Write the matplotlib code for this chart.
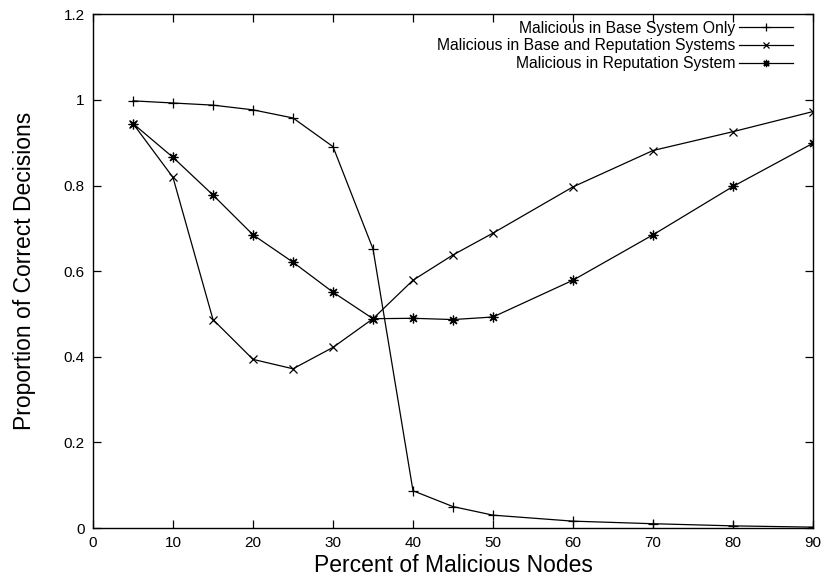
import matplotlib
matplotlib.use("Agg")
from matplotlib import pyplot as plt

plt.rcParams['font.family'] = ['Liberation Sans', 'DejaVu Sans']

# percent of malicious nodes
pct = [5, 10, 15, 20, 25, 30, 35, 40, 45, 50, 60, 70, 80, 90]

base_only = [0.998, 0.993, 0.988, 0.977, 0.958, 0.891, 0.652, 0.087, 0.050, 0.030, 0.016, 0.010, 0.005, 0.002]
base_and_rep = [0.945, 0.819, 0.487, 0.394, 0.372, 0.422, 0.489, 0.579, 0.638, 0.689, 0.797, 0.882, 0.926, 0.973]
rep_only = [0.945, 0.866, 0.778, 0.685, 0.621, 0.551, 0.489, 0.490, 0.487, 0.493, 0.579, 0.685, 0.798, 0.899]

labels = ["Malicious in Base System Only",
          "Malicious in Base and Reputation Systems",
          "Malicious in Reputation System"]

xticks = [0, 10, 20, 30, 40, 50, 60, 70, 80, 90]
yticks = [0, 0.2, 0.4, 0.6, 0.8, 1.0, 1.2]
ytick_labels = ["0", "0.2", "0.4", "0.6", "0.8", "1", "1.2"]

fig = plt.figure(figsize=(8.23, 5.79), dpi=100)
ax = fig.add_axes([93/823, 51/579, 720/823, 513.6/579])

lw = 0.9
ax.plot(pct, base_only, color='black', lw=lw, marker='+', ms=7, mew=0.9, label=labels[0])
ax.plot(pct, base_and_rep, color='black', lw=lw, marker='x', ms=6, mew=0.9, label=labels[1])
ax.plot(pct, rep_only, color='black', lw=lw, marker=(8, 2, 0), ms=7, mew=0.9, label=labels[2])

ax.set_xlim(0, 90)
ax.set_ylim(0, 1.2)
ax.set_xticks(xticks)
ax.set_yticks(yticks)
ax.set_yticklabels(ytick_labels)
ax.tick_params(direction='in', length=6, width=0.9, top=True, right=True, labelsize=11, pad=6)
for s in ax.spines.values():
    s.set_linewidth(1.0)

ax.set_xlabel("Percent of Malicious Nodes", fontsize=16.5, labelpad=3)
ax.set_ylabel("Proportion of Correct Decisions", fontsize=16.5, labelpad=20)

ax.legend(loc='upper right', bbox_to_anchor=(0.985, 1.006), frameon=False, markerfirst=False,
          fontsize=11.3, handlelength=3.4, handletextpad=0.25, labelspacing=0.17, borderaxespad=0.2,
          markerscale=0.75)
leg = ax.get_legend()
for t in leg.get_texts():
    t.set_ha('right')
leg._legend_box.align = 'right'

fig.savefig("out.png", dpi=100)
